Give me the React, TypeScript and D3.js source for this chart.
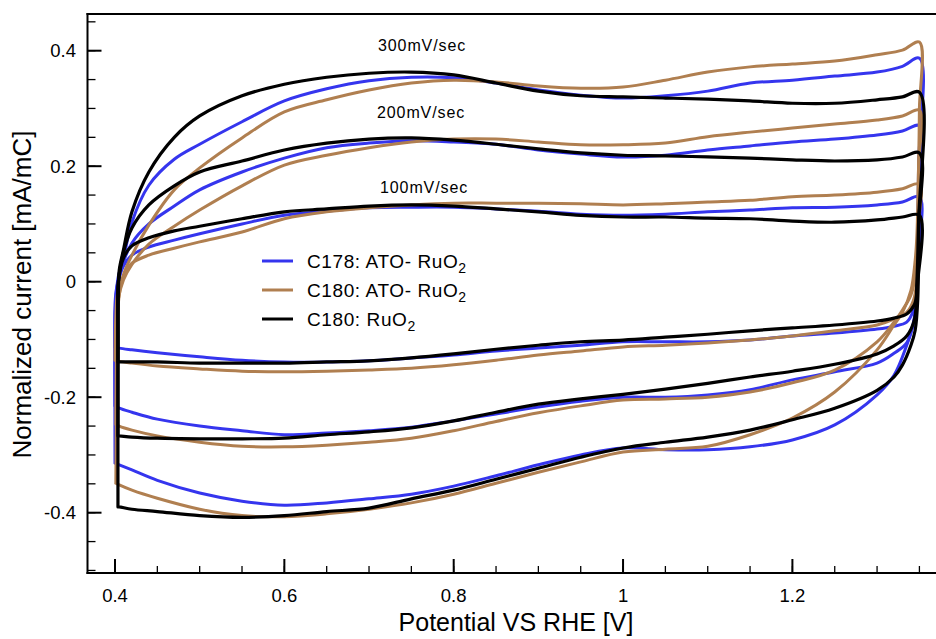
import React from "react";
import * as d3 from "d3";

// ---- Data (potential in V vs RHE, current in mA/mC) ----
const anodicV = [0.41, 0.42, 0.44, 0.47, 0.5, 0.55, 0.6, 0.65, 0.7, 0.75, 0.8, 0.85, 0.9, 0.95, 1.0, 1.05, 1.1, 1.15, 1.2, 1.25, 1.3, 1.33, 1.35];
const cathodicV = [1.3, 1.25, 1.2, 1.15, 1.1, 1.05, 1.0, 0.95, 0.9, 0.85, 0.8, 0.75, 0.7, 0.65, 0.6, 0.55, 0.5, 0.45, 0.42, 0.405];

const xMajorTicks = [0.4, 0.6, 0.8, 1.0, 1.2];
const xTickLabels = ["0.4", "0.6", "0.8", "1", "1.2"];
const yMajorTicks = [-0.4, -0.2, 0, 0.2, 0.4];
const yTickLabels = ["-0.4", "-0.2", "0", "0.2", "0.4"];

// C178: ATO-RuO2 (blue)
const c178_300_left = [[0.4, -0.314], [0.4, -0.1], [0.401, -0.03], [0.404, 0.01]];
const c178_300_anodic = [0.04, 0.103, 0.167, 0.212, 0.238, 0.277, 0.313, 0.334, 0.348, 0.354, 0.353, 0.344, 0.332, 0.323, 0.318, 0.322, 0.33, 0.344, 0.349, 0.356, 0.363, 0.373, 0.387];
const c178_300_right = [[1.349, 0.2], [1.347, 0.0], [1.344, -0.066], [1.335, -0.11], [1.32, -0.162]];
const c178_300_cathodic = [-0.196, -0.248, -0.274, -0.286, -0.291, -0.291, -0.288, -0.3, -0.317, -0.336, -0.354, -0.368, -0.376, -0.383, -0.387, -0.38, -0.366, -0.344, -0.326, -0.317];

const c178_200_left = [[0.4, -0.215], [0.4, -0.08], [0.402, -0.02]];
const c178_200_anodic = [0.034, 0.067, 0.1, 0.131, 0.159, 0.19, 0.214, 0.232, 0.24, 0.244, 0.242, 0.238, 0.228, 0.221, 0.216, 0.219, 0.228, 0.235, 0.242, 0.247, 0.254, 0.261, 0.27];
const c178_200_right = [[1.349, 0.15], [1.346, -0.032], [1.343, -0.07], [1.335, -0.106], [1.32, -0.124]];
const c178_200_cathodic = [-0.141, -0.156, -0.17, -0.187, -0.196, -0.2, -0.2, -0.207, -0.217, -0.229, -0.241, -0.252, -0.258, -0.262, -0.265, -0.258, -0.25, -0.238, -0.226, -0.219];

const c178_100_left = [[0.4, -0.113], [0.4, -0.04], [0.402, -0.01]];
const c178_100_anodic = [0.027, 0.046, 0.06, 0.072, 0.083, 0.1, 0.115, 0.122, 0.128, 0.129, 0.129, 0.126, 0.122, 0.117, 0.115, 0.117, 0.121, 0.124, 0.128, 0.129, 0.133, 0.138, 0.147];
const c178_100_right = [[1.349, 0.05], [1.346, -0.023], [1.343, -0.049], [1.335, -0.07], [1.32, -0.077]];
const c178_100_cathodic = [-0.082, -0.089, -0.094, -0.101, -0.104, -0.104, -0.104, -0.11, -0.115, -0.12, -0.127, -0.132, -0.137, -0.139, -0.139, -0.136, -0.13, -0.123, -0.118, -0.115];

// C180: ATO-RuO2 (brown)
const c180a_300_left = [[0.401, -0.349], [0.402, -0.15], [0.403, -0.06], [0.405, -0.023]];
const c180a_300_anodic = [0.012, 0.046, 0.098, 0.159, 0.197, 0.249, 0.294, 0.315, 0.332, 0.344, 0.349, 0.346, 0.339, 0.335, 0.337, 0.349, 0.363, 0.372, 0.377, 0.382, 0.393, 0.401, 0.415];
const c180a_300_right = [[1.35, 0.3], [1.349, 0.2], [1.347, 0.08], [1.345, 0.037], [1.34, -0.015], [1.33, -0.053], [1.32, -0.075]];
const c180a_300_cathodic = [-0.118, -0.191, -0.236, -0.265, -0.285, -0.29, -0.295, -0.312, -0.33, -0.349, -0.368, -0.383, -0.394, -0.402, -0.407, -0.405, -0.394, -0.375, -0.361, -0.352];

const c180a_200_left = [[0.401, -0.247], [0.402, -0.1], [0.404, -0.03]];
const c180a_200_anodic = [0.003, 0.03, 0.065, 0.096, 0.124, 0.166, 0.202, 0.219, 0.232, 0.242, 0.247, 0.247, 0.242, 0.237, 0.237, 0.24, 0.251, 0.259, 0.266, 0.273, 0.28, 0.287, 0.297];
const c180a_200_right = [[1.349, 0.2], [1.346, 0.02], [1.34, -0.023], [1.33, -0.049], [1.32, -0.07]];
const c180a_200_cathodic = [-0.104, -0.153, -0.175, -0.191, -0.2, -0.203, -0.205, -0.215, -0.227, -0.242, -0.258, -0.271, -0.278, -0.283, -0.286, -0.285, -0.278, -0.267, -0.257, -0.25];

const c180a_100_left = [[0.4, -0.136], [0.401, -0.06], [0.403, -0.02]];
const c180a_100_anodic = [0.01, 0.032, 0.046, 0.058, 0.069, 0.086, 0.109, 0.121, 0.128, 0.133, 0.136, 0.136, 0.136, 0.135, 0.133, 0.135, 0.138, 0.141, 0.147, 0.15, 0.155, 0.161, 0.169];
const c180a_100_right = [[1.349, 0.1], [1.347, 0.003], [1.343, -0.032], [1.335, -0.053], [1.32, -0.065]];
const c180a_100_cathodic = [-0.075, -0.085, -0.094, -0.101, -0.106, -0.11, -0.113, -0.12, -0.127, -0.136, -0.144, -0.15, -0.153, -0.155, -0.156, -0.155, -0.151, -0.146, -0.141, -0.138];

// C180: RuO2 (black)
const c180r_300_left = [[0.4035, -0.39], [0.4035, -0.2], [0.404, -0.02], [0.405, 0.02]];
const c180r_300_anodic = [0.055, 0.121, 0.19, 0.25, 0.287, 0.322, 0.342, 0.354, 0.361, 0.363, 0.358, 0.344, 0.33, 0.322, 0.32, 0.318, 0.316, 0.313, 0.309, 0.309, 0.315, 0.32, 0.328];
const c180r_300_right = [[1.349, 0.1], [1.348, -0.032], [1.345, -0.084], [1.34, -0.11], [1.33, -0.144], [1.32, -0.165]];
const c180r_300_cathodic = [-0.188, -0.219, -0.239, -0.257, -0.269, -0.278, -0.288, -0.304, -0.323, -0.342, -0.361, -0.376, -0.392, -0.398, -0.405, -0.408, -0.405, -0.398, -0.394, -0.39];

const c180r_200_left = [[0.4035, -0.267], [0.4035, -0.1], [0.404, 0.0]];
const c180r_200_anodic = [0.051, 0.093, 0.133, 0.166, 0.19, 0.209, 0.228, 0.24, 0.247, 0.249, 0.245, 0.238, 0.23, 0.223, 0.219, 0.218, 0.216, 0.214, 0.211, 0.209, 0.211, 0.216, 0.223];
const c180r_200_right = [[1.349, 0.1], [1.347, 0.0], [1.344, -0.066], [1.335, -0.094], [1.32, -0.111]];
const c180r_200_cathodic = [-0.125, -0.143, -0.155, -0.165, -0.176, -0.186, -0.195, -0.203, -0.212, -0.226, -0.241, -0.253, -0.26, -0.265, -0.271, -0.272, -0.272, -0.271, -0.269, -0.267];

const c180r_100_left = [[0.4035, -0.139], [0.4035, -0.05], [0.404, 0.0]];
const c180r_100_anodic = [0.041, 0.062, 0.076, 0.088, 0.096, 0.109, 0.121, 0.126, 0.131, 0.133, 0.131, 0.126, 0.121, 0.115, 0.112, 0.112, 0.11, 0.109, 0.105, 0.103, 0.107, 0.112, 0.115];
const c180r_100_right = [[1.348, 0.0], [1.346, -0.03], [1.344, -0.04], [1.335, -0.056], [1.32, -0.063]];
const c180r_100_cathodic = [-0.068, -0.075, -0.08, -0.085, -0.091, -0.096, -0.101, -0.104, -0.11, -0.117, -0.125, -0.132, -0.137, -0.139, -0.141, -0.141, -0.141, -0.139, -0.139, -0.139];

const seriesNames = ["C178: ATO- RuO", "C180: ATO- RuO", "C180: RuO"];
const seriesColors = ["#3535ee", "#b07f50", "#000000"];
const scanRateLabels = ["300mV/sec", "200mV/sec", "100mV/sec"];

type Pt = [number, number];
function loop(left: number[][], anodic: number[], right: number[][], cathodic: number[]): Pt[] {
  const pts: Pt[] = [];
  left.forEach((p) => pts.push([p[0], p[1]]));
  anodic.forEach((v, i) => pts.push([anodicV[i], v]));
  right.forEach((p) => pts.push([p[0], p[1]]));
  cathodic.forEach((v, i) => pts.push([cathodicV[i], v]));
  pts.push([left[0][0], left[0][1]]);
  return pts;
}

const curves = [
  { s: 0, pts: loop(c178_300_left, c178_300_anodic, c178_300_right, c178_300_cathodic) },
  { s: 0, pts: loop(c178_200_left, c178_200_anodic, c178_200_right, c178_200_cathodic) },
  { s: 0, pts: loop(c178_100_left, c178_100_anodic, c178_100_right, c178_100_cathodic) },
  { s: 1, pts: loop(c180a_300_left, c180a_300_anodic, c180a_300_right, c180a_300_cathodic) },
  { s: 1, pts: loop(c180a_200_left, c180a_200_anodic, c180a_200_right, c180a_200_cathodic) },
  { s: 1, pts: loop(c180a_100_left, c180a_100_anodic, c180a_100_right, c180a_100_cathodic) },
  { s: 2, pts: loop(c180r_300_left, c180r_300_anodic, c180r_300_right, c180r_300_cathodic) },
  { s: 2, pts: loop(c180r_200_left, c180r_200_anodic, c180r_200_right, c180r_200_cathodic) },
  { s: 2, pts: loop(c180r_100_left, c180r_100_anodic, c180r_100_right, c180r_100_cathodic) },
];

const W = 936;
const H = 639;
const FONT = "'Liberation Sans', Arial, Helvetica, sans-serif";

export default function App() {
  const x = d3.scaleLinear().domain([0.4, 1.2]).range([115, 792.4]);
  const y = d3.scaleLinear().domain([-0.4, 0.4]).range([512.7, 50.7]);
  const left = 87.5, right = 936, top = 14, bottom = 573;
  const line = d3
    .line<Pt>()
    .x((d) => x(d[0]))
    .y((d) => y(d[1]))
    .curve(d3.curveCatmullRom.alpha(0.5));

  const xMinor = d3.range(0.35, 1.42, 0.05).filter((v) => x(v) > left + 1 && x(v) < right - 1);
  const yMinor = d3.range(-0.5, 0.46, 0.05).filter((v) => y(v) > top + 1 && y(v) < bottom - 1);

  const annY = [50.5, 118, 193];
  const annX = [378, 377, 380];
  const legendY = [261, 290, 319];

  return (
    <svg width={W} height={H} style={{ position: "absolute", left: 0, top: 0, background: "#fff" }} fontFamily={FONT}>
      <rect x={0} y={0} width={W} height={H} fill="#fff" />
      {/* curves */}
      <g fill="none" strokeLinejoin="round" strokeLinecap="round">
        {curves.map((c, i) => (
          <path key={i} d={line(c.pts) || ""} stroke={seriesColors[c.s]} strokeWidth={c.s === 2 ? 3.2 : 3} />
        ))}
      </g>
      {/* frame */}
      <g stroke="#000" strokeWidth={2} fill="none">
        <line x1={left} x2={left} y1={top - 1} y2={bottom + 1} />
        <line x1={left - 1} x2={right} y1={top} y2={top} />
        <line x1={left - 1} x2={right} y1={bottom} y2={bottom} />
      </g>
      {/* ticks */}
      <g stroke="#000">
        {yMinor.map((v, i) => (
          <line key={"ym" + i} x1={left} x2={left + 8} y1={y(v)} y2={y(v)} strokeWidth={1.3} />
        ))}
        {yMajorTicks.map((v, i) => (
          <line key={"yM" + i} x1={left} x2={left + 14} y1={y(v)} y2={y(v)} strokeWidth={2} />
        ))}
        {xMinor.map((v, i) => (
          <line key={"xm" + i} x1={x(v)} x2={x(v)} y1={bottom} y2={bottom - 7} strokeWidth={1.3} />
        ))}
        {xMajorTicks.map((v, i) => (
          <line key={"xM" + i} x1={x(v)} x2={x(v)} y1={bottom} y2={bottom - 14} strokeWidth={2} />
        ))}
      </g>
      {/* tick labels */}
      <g fontSize={18.5} fill="#000">
        {yMajorTicks.map((v, i) => (
          <text key={"yl" + i} x={76} y={y(v) + 6.5} textAnchor="end">
            {yTickLabels[i]}
          </text>
        ))}
        {xMajorTicks.map((v, i) => (
          <text key={"xl" + i} x={x(v)} y={602} textAnchor="middle">
            {xTickLabels[i]}
          </text>
        ))}
      </g>
      {/* axis titles */}
      <text x={516} y={631} textAnchor="middle" fontSize={25}>
        Potential VS RHE [V]
      </text>
      <text transform="translate(31,294.5) rotate(-90)" textAnchor="middle" fontSize={26}>
        Normalized current [mA/mC]
      </text>
      {/* scan-rate annotations */}
      {scanRateLabels.map((t, i) => (
        <text key={"a" + i} x={annX[i]} y={annY[i]} fontSize={16} letterSpacing={0.9}>
          {t}
        </text>
      ))}
      {/* legend */}
      {seriesNames.map((n, i) => (
        <g key={"lg" + i}>
          <line x1={262} x2={293} y1={legendY[i]} y2={legendY[i]} stroke={seriesColors[i]} strokeWidth={3} />
          <text x={307} y={legendY[i] + 6.5} fontSize={19} letterSpacing={0.6}>
            {n}
            <tspan fontSize={14} dy={5}>2</tspan>
          </text>
        </g>
      ))}
    </svg>
  );
}
